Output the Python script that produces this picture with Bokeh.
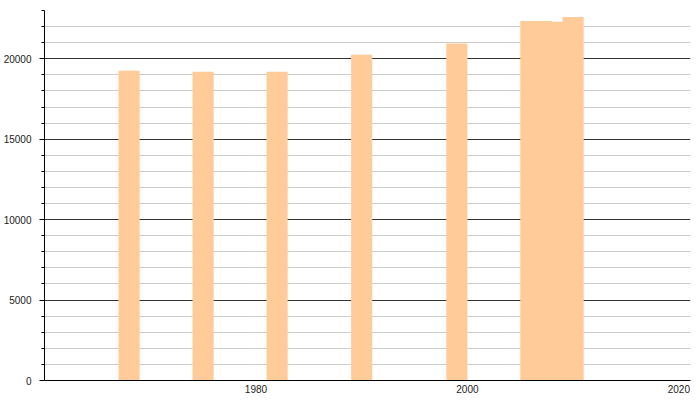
from bokeh.plotting import figure
from bokeh.models import Range1d, FixedTicker
from bokeh.embed import file_html
from bokeh.resources import INLINE

# Data
years = [1968, 1975, 1982, 1990, 1999, 2006, 2007, 2008, 2009, 2010]
population = [19250, 19200, 19200, 20250, 20950, 22350, 22350, 22300, 22250, 22600]

x_ticks = [1980, 2000, 2020]
y_major = [0, 5000, 10000, 15000, 20000]
y_minor = [1000, 2000, 3000, 4000, 6000, 7000, 8000, 9000,
           11000, 12000, 13000, 14000, 16000, 17000, 18000, 19000,
           21000, 22000, 23000]

p = figure(width=700, height=400, output_backend="svg", toolbar_location=None,
           x_range=Range1d(1960, 2021.1), y_range=Range1d(0, 23000),
           min_border_left=44, min_border_right=10, min_border_top=10, min_border_bottom=20)
p.outline_line_color = None
p.background_fill_color = "white"

p.vbar(x=years, top=population, width=2, fill_color="#ffcc99", line_color=None)

# X axis
p.xaxis.ticker = FixedTicker(ticks=x_ticks)
p.xaxis.major_tick_line_color = None
p.xaxis.minor_tick_line_color = None
p.xaxis.major_tick_out = 0
p.xaxis.major_tick_in = 0
p.xaxis.axis_line_color = "black"
p.xaxis.major_label_standoff = 4
p.xaxis.major_label_text_font = "Liberation Sans"
p.xaxis.major_label_text_font_size = "10px"
p.xaxis.major_label_text_color = "#222222"
p.xgrid.grid_line_color = None

# Y axis
yt = FixedTicker(ticks=y_major, minor_ticks=y_minor)
p.yaxis.ticker = yt
p.yaxis.axis_line_color = "black"
p.yaxis.major_tick_out = 5
p.yaxis.major_tick_in = 0
p.yaxis.minor_tick_out = 3
p.yaxis.minor_tick_in = 0
p.yaxis.major_tick_line_color = "black"
p.yaxis.minor_tick_line_color = "black"
p.yaxis.major_label_standoff = 8
p.yaxis.major_label_text_font = "Liberation Sans"
p.yaxis.major_label_text_font_size = "10px"
p.yaxis.major_label_text_color = "#222222"
p.yaxis.formatter.use_scientific = False

p.ygrid.ticker = yt
p.ygrid.grid_line_color = "#333333"
p.ygrid.grid_line_width = 1
p.ygrid.minor_grid_line_color = "#cccccc"
p.ygrid.minor_grid_line_width = 1
p.ygrid.level = "underlay"

open("out.html", "w").write(file_html(p, INLINE))
